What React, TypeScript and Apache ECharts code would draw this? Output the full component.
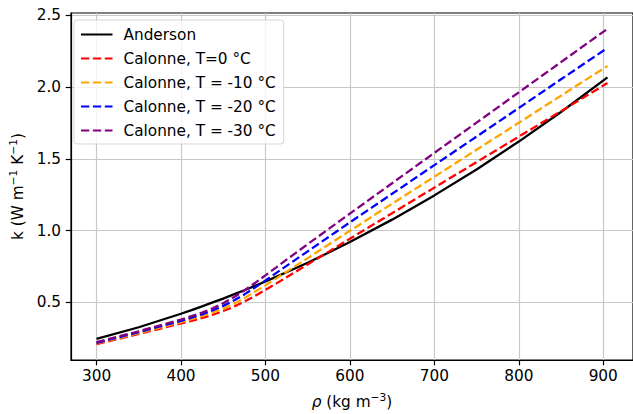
import React, { useEffect, useRef } from "react";
import * as echarts from "echarts";

const rho = [300, 350, 400, 412.5, 425, 437.5, 450, 462.5, 475, 487.5, 500, 512.5, 525, 550, 575, 600, 650, 700, 750, 800, 850, 905];
const anderson = [0.246, 0.327, 0.421, 0.446, 0.473, 0.5, 0.527, 0.556, 0.585, 0.615, 0.646, 0.678, 0.71, 0.777, 0.848, 0.921, 1.077, 1.246, 1.427, 1.621, 1.827, 2.069];
const calonne0 = [0.209, 0.28, 0.354, 0.372, 0.392, 0.414, 0.44, 0.47, 0.506, 0.545, 0.587, 0.631, 0.675, 0.765, 0.854, 0.944, 1.122, 1.3, 1.478, 1.655, 1.833, 2.029];
const calonne10 = [0.214, 0.286, 0.363, 0.383, 0.405, 0.429, 0.457, 0.491, 0.53, 0.574, 0.619, 0.666, 0.714, 0.809, 0.904, 0.999, 1.188, 1.376, 1.564, 1.752, 1.941, 2.148];
const calonne20 = [0.218, 0.293, 0.372, 0.394, 0.417, 0.444, 0.476, 0.513, 0.556, 0.604, 0.653, 0.704, 0.755, 0.856, 0.957, 1.058, 1.257, 1.457, 1.656, 1.855, 2.055, 2.274];
const calonne30 = [0.223, 0.299, 0.381, 0.404, 0.429, 0.459, 0.494, 0.536, 0.583, 0.635, 0.689, 0.743, 0.798, 0.906, 1.013, 1.119, 1.331, 1.542, 1.753, 1.964, 2.175, 2.407];

const xTicks = [300, 400, 500, 600, 700, 800, 900];
const yTicks = [0.5, 1.0, 1.5, 2.0, 2.5];

const seriesNames = [
  "Anderson",
  "Calonne, T=0 °C",
  "Calonne, T = -10 °C",
  "Calonne, T = -20 °C",
  "Calonne, T = -30 °C",
];
const seriesData = [anderson, calonne0, calonne10, calonne20, calonne30];
const seriesColors = ["#000000", "#ff0000", "#ffa500", "#0000ff", "#800080"];

const FONT = "DejaVu Sans";
const FS = 15.3;

export default function App() {
  const ref = useRef<HTMLDivElement>(null);
  useEffect(() => {
    if (!ref.current) return;
    const chart = echarts.init(ref.current, null, { renderer: "svg" });
    const series = seriesData.map((d, i) => ({
      name: seriesNames[i],
      type: "line",
      data: rho.map((x, j) => [x, d[j]]),
      showSymbol: false,
      symbol: "none",
      smooth: false,
      color: seriesColors[i],
      lineStyle: {
        color: seriesColors[i],
        width: 2.3,
        type: i === 0 ? "solid" : [8.3, 3.6],
      },
    }));
    chart.setOption({
      animation: false,
      backgroundColor: "#ffffff",
      textStyle: { fontFamily: FONT },
      grid: {
        left: 66,
        top: 13,
        width: 570.4,
        height: 350,
        show: true,
        borderColor: "#000000",
        borderWidth: 1.2,
        backgroundColor: "transparent",
      },
      legend: {
        orient: "vertical",
        left: 74,
        top: 20,
        padding: [7, 8, 6, 6],
        itemWidth: 31.5,
        itemHeight: 14,
        itemGap: 9,
        backgroundColor: "rgba(255,255,255,0.8)",
        borderColor: "rgba(204,204,204,0.8)",
        borderWidth: 1,
        borderRadius: 3,
        itemStyle: { opacity: 0, color: "transparent", borderWidth: 0 },
        textStyle: {
          fontFamily: FONT,
          fontSize: FS,
          color: "#000000",
          lineHeight: 14,
          padding: [0, 0, 0, 6],
        },
        data: seriesNames,
      },
      xAxis: {
        type: "value",
        min: 269.75,
        max: 935.25,
        name: "{i|ρ} (kg m{s|−3})",
        nameLocation: "middle",
        nameGap: 32,
        nameTextStyle: {
          fontFamily: FONT,
          fontSize: FS,
          color: "#000000",
          rich: {
            i: { fontFamily: FONT, fontSize: FS, fontStyle: "italic", color: "#000000" },
            s: { fontFamily: FONT, fontSize: 10.7, color: "#000000", padding: [0, 0, 8, 0] },
          },
        },
        axisLine: { show: true, lineStyle: { color: "#000000", width: 1.2 } },
        axisTick: { show: true, length: 5.3, lineStyle: { color: "#000000", width: 1.2 }, customValues: xTicks },
        axisLabel: {
          customValues: xTicks,
          margin: 8,
          fontFamily: FONT,
          fontSize: FS,
          color: "#000000",
          formatter: (v: number) => String(Math.round(v)),
        },
        splitLine: { show: true, lineStyle: { color: "#c8c8c8", width: 1.2 } },
      },
      yAxis: {
        type: "value",
        min: 0.0988,
        max: 2.5171,
        name: "k (W m{s|−1} K{s|−1})",
        nameLocation: "middle",
        nameGap: 44,
        nameTextStyle: {
          fontFamily: FONT,
          fontSize: FS,
          color: "#000000",
          rich: {
            s: { fontFamily: FONT, fontSize: 10.7, color: "#000000", padding: [0, 0, 8, 0] },
          },
        },
        axisLine: { show: true, lineStyle: { color: "#000000", width: 1.2 } },
        axisTick: { show: true, length: 5.3, lineStyle: { color: "#000000", width: 1.2 }, customValues: yTicks },
        axisLabel: {
          customValues: yTicks,
          margin: 10,
          fontFamily: FONT,
          fontSize: FS,
          color: "#000000",
          formatter: (v: number) => v.toFixed(1),
        },
        splitLine: { show: true, lineStyle: { color: "#c8c8c8", width: 1.2 } },
      },
      series,
    });
    return () => chart.dispose();
  }, []);
  return (
    <div
      ref={ref}
      style={{ position: "fixed", left: 0, top: 0, width: 633, height: 414 }}
    />
  );
}
